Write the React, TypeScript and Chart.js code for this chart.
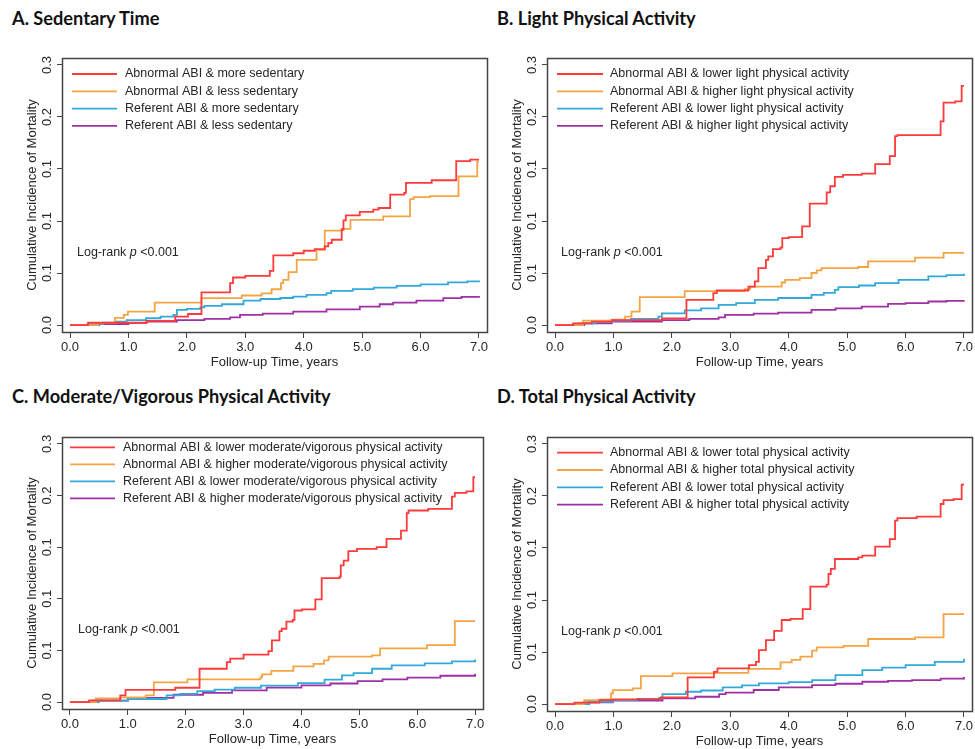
import React, { useEffect, useRef } from "react";
import { Chart, registerables } from "chart.js";

Chart.register(...registerables);

// ---------- axis ticks ----------
const X_TICKS = [0, 1, 2, 3, 4, 5, 6, 7];
const X_TICK_LABELS = ["0.0", "1.0", "2.0", "3.0", "4.0", "5.0", "6.0", "7.0"];
const Y_TICKS = [0, 0.05, 0.1, 0.15, 0.2, 0.25];
const Y_TICK_LABELS = ["0.0", "0.1", "0.1", "0.1", "0.2", "0.3"];
const X_TITLE = "Follow-up Time, years";
const Y_TITLE = "Cumulative Incidence of Mortality";
const LOGRANK_PARTS: [string, boolean][] = [["Log-rank ", false], ["p", true], [" <0.001", false]];

// ---------- panel titles & series names ----------
const TITLES = ["A. Sedentary Time", "B. Light Physical Activity", "C. Moderate/Vigorous Physical Activity", "D. Total Physical Activity"];
const A_LABELS = ["Abnormal ABI & more sedentary", "Abnormal ABI & less sedentary", "Referent ABI & more sedentary", "Referent ABI & less sedentary"];
const B_LABELS = ["Abnormal ABI & lower light physical activity", "Abnormal ABI & higher light physical activity", "Referent ABI & lower light physical activity", "Referent ABI & higher light physical activity"];
const C_LABELS = ["Abnormal ABI & lower moderate/vigorous physical activity", "Abnormal ABI & higher moderate/vigorous physical activity", "Referent ABI & lower moderate/vigorous physical activity", "Referent ABI & higher moderate/vigorous physical activity"];
const D_LABELS = ["Abnormal ABI & lower total physical activity", "Abnormal ABI & higher total physical activity", "Referent ABI & lower total physical activity", "Referent ABI & higher total physical activity"];

// ---------- series: [time (years), cumulative incidence] ----------
const A_RED: [number, number][] = [[0,0],[0.31,0.0022],[1.31,0.004],[1.80,0.008],[2.02,0.0106],[2.25,0.0314],[2.74,0.0402],[2.79,0.0457],[3.0,0.0473],[3.42,0.052],[3.48,0.0669],[3.82,0.069],[4.0,0.0714],[4.19,0.073],[4.36,0.0756],[4.42,0.0788],[4.48,0.082],[4.65,0.0916],[4.68,0.1006],[4.72,0.1055],[4.96,0.1087],[5.19,0.111],[5.28,0.1125],[5.48,0.1254],[5.72,0.127],[5.75,0.1366],[6.19,0.1392],[6.61,0.1575],[6.85,0.159],[7.0,0.159]];
const A_ORANGE: [number, number][] = [[0,0],[0.48,0.002],[0.77,0.0068],[0.92,0.0097],[0.99,0.0129],[1.45,0.0216],[2.25,0.0258],[2.94,0.0284],[3.28,0.0305],[3.45,0.0344],[3.61,0.0402],[3.65,0.0434],[3.74,0.0508],[3.88,0.0627],[4.22,0.0723],[4.36,0.0907],[4.65,0.0925],[4.8,0.101],[5.36,0.1045],[5.82,0.121],[5.88,0.123],[6.16,0.124],[6.65,0.143],[6.97,0.157],[7.0,0.157]];
const A_BLUE: [number, number][] = [[0,0],[0.3,0.0008],[0.57,0.0022],[0.8,0.0032],[0.97,0.0048],[1.3,0.0065],[1.55,0.008],[1.77,0.0097],[1.83,0.0145],[2.0,0.0155],[2.23,0.017],[2.3,0.0185],[2.6,0.020],[2.97,0.0235],[3.26,0.025],[3.6,0.026],[3.82,0.0274],[4.05,0.029],[4.39,0.0306],[4.47,0.0329],[4.84,0.0345],[5.2,0.036],[5.59,0.0377],[6.0,0.039],[6.47,0.041],[6.8,0.042],[7.0,0.0428]];
const A_PURPLE: [number, number][] = [[0,0],[0.5,0.001],[1.0,0.002],[1.31,0.0032],[1.83,0.0048],[2.3,0.006],[2.74,0.0074],[2.91,0.0097],[3.3,0.011],[3.82,0.0129],[4.39,0.0151],[4.96,0.0177],[5.3,0.020],[5.53,0.0216],[5.93,0.0235],[6.39,0.0258],[6.7,0.027],[7.0,0.028]];

const B_RED: [number, number][] = [[0,0],[0.31,0.0016],[0.63,0.0032],[0.97,0.0048],[1.83,0.0064],[2.25,0.0242],[2.71,0.0306],[2.77,0.0332],[3.31,0.037],[3.42,0.0419],[3.48,0.0547],[3.61,0.0627],[3.65,0.066],[3.73,0.073],[3.86,0.0745],[3.89,0.0836],[4.0,0.0846],[4.23,0.0948],[4.36,0.1167],[4.65,0.1276],[4.71,0.1334],[4.79,0.1424],[4.93,0.1444],[5.25,0.1456],[5.48,0.1546],[5.73,0.1624],[5.82,0.1816],[5.86,0.1826],[6.60,0.1958],[6.65,0.2138],[6.85,0.215],[6.96,0.2299],[7.0,0.2299]];
const B_ORANGE: [number, number][] = [[0,0],[0.48,0.0042],[0.97,0.0052],[1.2,0.008],[1.31,0.0129],[1.45,0.0268],[2.22,0.0325],[2.74,0.0328],[3.25,0.0345],[3.34,0.037],[3.88,0.0409],[3.94,0.0435],[4.19,0.045],[4.39,0.05],[4.48,0.0525],[4.56,0.0548],[5.19,0.0558],[5.36,0.0612],[6.16,0.0648],[6.65,0.0693],[7.0,0.0693]];
const B_BLUE: [number, number][] = [[0,0],[0.4,0.0016],[0.7,0.003],[0.97,0.0042],[1.3,0.006],[1.77,0.008],[1.83,0.0113],[2.22,0.014],[2.5,0.016],[2.8,0.0193],[3.1,0.021],[3.42,0.0242],[3.82,0.026],[4.39,0.029],[4.6,0.031],[4.79,0.0338],[4.85,0.0364],[5.2,0.038],[5.48,0.0403],[5.88,0.0435],[6.39,0.0467],[6.7,0.048],[7.0,0.0493]];
const B_PURPLE: [number, number][] = [[0,0],[0.5,0.0015],[0.97,0.0032],[1.83,0.0048],[2.3,0.006],[2.8,0.0074],[2.91,0.0097],[3.4,0.011],[3.82,0.012],[4.39,0.0145],[4.8,0.016],[5.25,0.0177],[5.7,0.0203],[6.0,0.021],[6.39,0.0226],[6.7,0.0233],[7.0,0.0235]];

const C_RED: [number, number][] = [[0,0],[0.33,0.0016],[0.87,0.0065],[0.96,0.0119],[1.82,0.0139],[2.24,0.0323],[2.71,0.0387],[2.77,0.042],[3.0,0.046],[3.43,0.0494],[3.49,0.0597],[3.62,0.0687],[3.66,0.071],[3.74,0.078],[3.85,0.0797],[3.88,0.0887],[4.01,0.0897],[4.24,0.0994],[4.35,0.12],[4.66,0.1216],[4.68,0.1323],[4.73,0.137],[4.81,0.1461],[4.96,0.1484],[5.30,0.15],[5.47,0.158],[5.72,0.166],[5.82,0.1829],[5.85,0.1855],[6.19,0.1871],[6.60,0.199],[6.65,0.2026],[6.85,0.204],[6.97,0.2178],[7.0,0.2178]];
const C_ORANGE: [number, number][] = [[0,0],[0.45,0.0036],[0.88,0.0045],[1.31,0.0065],[1.45,0.019],[2.03,0.022],[3.29,0.024],[3.32,0.0268],[3.48,0.0302],[3.86,0.0345],[4.21,0.037],[4.39,0.0403],[4.47,0.044],[5.22,0.0452],[5.36,0.052],[6.17,0.0552],[6.65,0.0784],[7.0,0.0784]];
const C_BLUE: [number, number][] = [[0,0],[0.5,0.0015],[1.0,0.003],[1.67,0.0065],[1.9,0.008],[2.2,0.0106],[2.5,0.012],[2.85,0.0139],[3.3,0.016],[3.94,0.0184],[4.4,0.0217],[4.7,0.0258],[4.9,0.028],[5.22,0.0323],[5.56,0.0355],[6.13,0.0375],[6.6,0.0395],[7.0,0.0413]];
const C_PURPLE: [number, number][] = [[0,0],[0.4,0.0015],[1.0,0.004],[1.79,0.0071],[2.3,0.009],[2.8,0.0113],[3.4,0.014],[4.0,0.0161],[4.5,0.018],[4.97,0.0203],[5.4,0.022],[5.83,0.0236],[6.4,0.0255],[7.0,0.0274]];

const D_RED: [number, number][] = [[0,0],[0.33,0.0013],[0.76,0.0038],[0.99,0.0045],[1.81,0.0064],[2.27,0.0256],[2.72,0.031],[2.78,0.0342],[3.32,0.0374],[3.44,0.0406],[3.49,0.0518],[3.61,0.0614],[3.75,0.0704],[3.88,0.0808],[4.03,0.0818],[4.24,0.0913],[4.37,0.1128],[4.65,0.1147],[4.68,0.125],[4.72,0.13],[4.79,0.1394],[5.19,0.141],[5.26,0.1426],[5.48,0.1513],[5.73,0.1586],[5.82,0.1763],[5.86,0.1788],[6.19,0.1801],[6.6,0.1923],[6.65,0.1961],[6.82,0.197],[6.96,0.2109],[7.0,0.2109]];
const D_ORANGE: [number, number][] = [[0,0],[0.5,0.0038],[0.79,0.0045],[0.96,0.0102],[0.99,0.0134],[1.33,0.015],[1.47,0.0269],[2.01,0.0295],[2.75,0.03],[3.31,0.0337],[3.86,0.04],[4.05,0.0425],[4.2,0.0455],[4.4,0.0513],[4.48,0.0545],[4.94,0.056],[5.36,0.0625],[6.16,0.0641],[6.65,0.0865],[7.0,0.0865]];
const D_BLUE: [number, number][] = [[0,0],[0.59,0.0022],[0.99,0.0038],[1.4,0.005],[1.78,0.006],[1.84,0.0096],[2.24,0.0118],[2.5,0.013],[2.87,0.016],[3.2,0.018],[3.49,0.0198],[4.0,0.021],[4.4,0.023],[4.8,0.0278],[5.26,0.0326],[5.6,0.035],[6.0,0.0374],[6.5,0.0405],[7.0,0.0436]];
const D_PURPLE: [number, number][] = [[0,0],[0.5,0.0015],[0.99,0.0032],[1.84,0.0054],[2.4,0.007],[2.81,0.0096],[2.92,0.011],[3.4,0.0135],[3.83,0.016],[4.4,0.0182],[4.8,0.0195],[5.26,0.0214],[5.7,0.0222],[6.11,0.023],[6.6,0.0245],[7.0,0.026]];

// ---------- styles ----------
const COLORS = ["#FF3A3A", "#F5A443", "#33A9D9", "#9E30A6"];
const FONT = '"Liberation Sans", Arial, sans-serif';
const AXIS_COLOR = "#444444";
const TEXT_COLOR = "#262626";
const X_MIN = -0.137, X_MAX = 7.137;
const Y_MIN = -0.0067, Y_MAX = 0.2567;
const Y_AXIS_W = 62, X_AXIS_H = 42, PAD_TOP = 10, PAD_RIGHT = 5;

type Geo = { left: number; top: number; w: number; h: number; titleX: number; titleY: number;
  legTop: number; legStep: number; lx0: number; lx1: number; ltx: number; lrX: number; lrY: number };

const PANELS: { title: string; labels: string[]; series: [number, number][][]; geo: Geo }[] = [
  { title: TITLES[0], labels: A_LABELS, series: [A_RED, A_ORANGE, A_BLUE, A_PURPLE],
    geo: { left: 62, top: 58, w: 425, h: 274, titleX: 12, titleY: 9, legTop: 16, legStep: 17.3, lx0: 10, lx1: 55, ltx: 63, lrX: 15, lrY: 195 } },
  { title: TITLES[1], labels: B_LABELS, series: [B_RED, B_ORANGE, B_BLUE, B_PURPLE],
    geo: { left: 547, top: 58, w: 425, h: 274, titleX: 497, titleY: 9, legTop: 16, legStep: 17.3, lx0: 10, lx1: 56, ltx: 63, lrX: 14, lrY: 195 } },
  { title: TITLES[2], labels: C_LABELS, series: [C_RED, C_ORANGE, C_BLUE, C_PURPLE],
    geo: { left: 62, top: 437, w: 421, h: 272, titleX: 12, titleY: 387, legTop: 10.3, legStep: 17, lx0: 8, lx1: 53, ltx: 61, lrX: 16, lrY: 193 } },
  { title: TITLES[3], labels: D_LABELS, series: [D_RED, D_ORANGE, D_BLUE, D_PURPLE],
    geo: { left: 547, top: 437, w: 425, h: 274, titleX: 497, titleY: 387, legTop: 15.7, legStep: 17.3, lx0: 10, lx1: 56, ltx: 63, lrX: 14, lrY: 195 } },
];

const decorPlugin = {
  id: "kmDecor",
  afterDatasetsDraw(chart: any, _args: any, opts: any) {
    const { ctx, chartArea: a } = chart;
    ctx.save();
    // frame box
    ctx.strokeStyle = AXIS_COLOR;
    ctx.lineWidth = 1.5;
    ctx.strokeRect(Math.round(a.left) + 0.5, Math.round(a.top) + 0.5, Math.round(a.right - a.left), Math.round(a.bottom - a.top));
    // legend
    ctx.font = `12.5px ${FONT}`;
    ctx.textBaseline = "middle";
    ctx.textAlign = "left";
    chart.data.datasets.forEach((ds: any, i: number) => {
      const y = a.top + opts.legTop + i * opts.legStep;
      ctx.strokeStyle = ds.borderColor;
      ctx.lineWidth = ds.borderWidth;
      ctx.beginPath();
      ctx.moveTo(a.left + opts.lx0, y);
      ctx.lineTo(a.left + opts.lx1, y);
      ctx.stroke();
      ctx.fillStyle = TEXT_COLOR;
      ctx.fillText(ds.label, a.left + opts.ltx, y);
    });
    // log-rank annotation
    let x = a.left + opts.lrX;
    const y = a.top + opts.lrY;
    ctx.fillStyle = TEXT_COLOR;
    for (const [txt, italic] of LOGRANK_PARTS) {
      ctx.font = `${italic ? "italic " : ""}12.5px ${FONT}`;
      ctx.fillText(txt, x, y);
      x += ctx.measureText(txt).width;
    }
    ctx.restore();
  },
};

function Panel({ p }: { p: (typeof PANELS)[number] }) {
  const ref = useRef<HTMLCanvasElement | null>(null);
  const g = p.geo;
  const cx = g.left - Y_AXIS_W;
  const cy = g.top - PAD_TOP;
  const cw = Y_AXIS_W + g.w + PAD_RIGHT;
  const ch = PAD_TOP + g.h + X_AXIS_H;

  useEffect(() => {
    if (!ref.current) return;
    const tickFont = { family: FONT, size: 13 };
    const chart = new Chart(ref.current, {
      type: "line",
      data: {
        datasets: p.series.map((s, i) => ({
          label: p.labels[i],
          data: s.map(([t, v]) => ({ x: t, y: v })),
          borderColor: COLORS[i],
          backgroundColor: COLORS[i],
          borderWidth: 1.8,
          pointRadius: 0,
          stepped: "before" as const,
          fill: false,
          tension: 0,
        })),
      },
      options: {
        animation: false,
        responsive: false,
        devicePixelRatio: 1,
        layout: { padding: { left: 0, top: PAD_TOP, right: PAD_RIGHT, bottom: 0 } },
        plugins: {
          legend: { display: false },
          tooltip: { enabled: false },
          kmDecor: { legTop: g.legTop, legStep: g.legStep, lx0: g.lx0, lx1: g.lx1, ltx: g.ltx, lrX: g.lrX, lrY: g.lrY },
        } as any,
        scales: {
          x: {
            type: "linear",
            min: X_MIN,
            max: X_MAX,
            afterBuildTicks: (s: any) => { s.ticks = X_TICKS.map((v) => ({ value: v })); },
            afterFit: (s: any) => { s.height = X_AXIS_H; },
            ticks: {
              autoSkip: false, minRotation: 0, maxRotation: 0, padding: 2,
              color: TEXT_COLOR, font: tickFont,
              callback: (_v: any, i: number) => X_TICK_LABELS[i],
            },
            grid: { drawOnChartArea: false, drawTicks: true, tickLength: 6, color: AXIS_COLOR, lineWidth: 1 },
            border: { display: false },
            title: { display: true, text: X_TITLE, color: TEXT_COLOR, font: tickFont, padding: { top: 0, bottom: 4 } },
          },
          y: {
            type: "linear",
            min: Y_MIN,
            max: Y_MAX,
            afterBuildTicks: (s: any) => { s.ticks = Y_TICKS.map((v) => ({ value: v })); },
            afterFit: (s: any) => { s.width = Y_AXIS_W; },
            ticks: {
              autoSkip: false, minRotation: 90, maxRotation: 90, crossAlign: "center", padding: 1,
              color: TEXT_COLOR, font: tickFont,
              callback: (_v: any, i: number) => Y_TICK_LABELS[i],
            },
            grid: { drawOnChartArea: false, drawTicks: true, tickLength: 5, color: AXIS_COLOR, lineWidth: 1 },
            border: { display: false },
            title: { display: true, text: Y_TITLE, color: TEXT_COLOR, font: tickFont, padding: { top: 25, bottom: 0 } },
          },
        },
      } as any,
      plugins: [decorPlugin],
    });
    return () => chart.destroy();
  }, []);

  return (
    <>
      <div
        style={{
          position: "absolute", left: g.titleX, top: g.titleY, fontFamily: "Lato, 'Open Sans', sans-serif",
          fontWeight: 700, fontSize: 18.2, lineHeight: 1, whiteSpace: "nowrap", color: "#111",
        }}
      >
        {p.title}
      </div>
      <canvas
        ref={ref}
        width={cw}
        height={ch}
        style={{ position: "absolute", left: cx, top: cy, width: cw, height: ch, display: "block" }}
      />
    </>
  );
}

export default function App() {
  return (
    <div
      style={{
        position: "absolute", left: 0, top: 0, width: 975, height: 749,
        overflow: "hidden", background: "#ffffff",
      }}
    >
      {PANELS.map((p, i) => (
        <Panel key={i} p={p} />
      ))}
    </div>
  );
}
